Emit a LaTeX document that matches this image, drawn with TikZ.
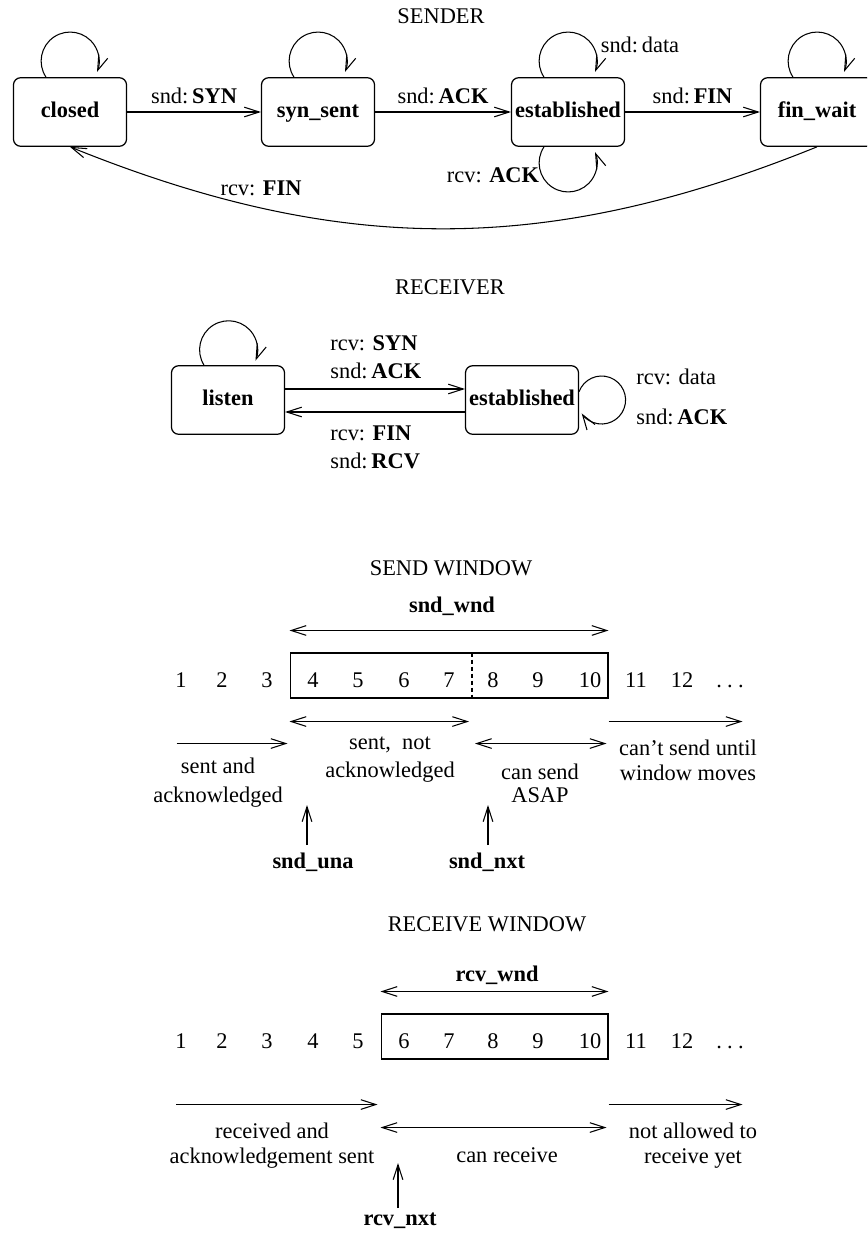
\documentclass[tikz,border=0pt]{standalone}
\usepackage{fontspec}
\setmainfont{Liberation Serif}
\usetikzlibrary{arrows.meta,positioning,calc}
\newcommand{\diafont}{\fontsize{12.75pt}{16pt}\selectfont}
\newcommand{\spdots}{.\hspace{3pt}.\hspace{3pt}.}
\tikzset{
  stbox/.style={draw,rectangle,rounded corners=4pt,minimum width=2.26cm,minimum height=1.37cm,inner sep=1pt,line width=0.7pt,font=\diafont\bfseries,text height=0.67em,text depth=0pt},
  win/.style={draw,rectangle,minimum height=0.9cm,inner sep=0pt,line width=0.6pt},
  arr/.style={-{Straight Barb[length=8.5pt,width=5.5pt]},line width=0.6pt},
  darr/.style={{Straight Barb[length=8.5pt,width=5.5pt]}-{Straight Barb[length=8.5pt,width=5.5pt]},line width=0.6pt},
  lbl/.style={inner sep=0pt,align=center,font=\diafont},
  blbl/.style={lbl,font=\diafont\bfseries},
  ttl/.style={inner sep=0pt,font=\diafont},
  seq/.style={inner sep=0pt,font=\diafont,text height=0.68em,text depth=0pt}
}
\begin{document}
\begin{tikzpicture}[x=0.02cm, y=0.02cm, font=\diafont]
  \useasboundingbox (0,0) rectangle (867,-1234);
  \clip (0,0) rectangle (867,-1234);

  % Sender states
  \node[ttl] (sttl) at (441,-16) {SENDER};
  \node[stbox] (closed) at (70,-112) {closed};
  \node[stbox] (synsent) at (318,-112) {syn\_sent};
  \node[stbox] (estab) at (568,-112) {established};
  \node[stbox] (finwait) at (817,-112) {fin\_wait};

  % Sender transitions
  \draw[arr] (closed) -- (synsent) node[lbl, midway, above=4.5pt] {snd:\,\textbf{SYN}};
  \draw[arr] (synsent) -- (estab) node[lbl, midway, above=4.5pt] {snd:\,\textbf{ACK}};
  \draw[arr] (estab) -- (finwait) node[lbl, midway, above=4.5pt] {snd:\,\textbf{FIN}};
  \draw[arr] (finwait.south) to[out=-158, in=-22] (closed.south);
  \node[lbl] (finlbl) at (261,-188) {rcv: \textbf{FIN}};

  % Self loops
  \foreach \st in {closed,synsent,estab,finwait}
    \draw[arr] ($(\st.north)+(-24,0)$) arc[start angle=213.7, end angle=-22, radius=29];
  \draw[arr] ($(estab.south)+(-24,0)$) arc[start angle=146.3, end angle=382, radius=29];
  \node[lbl] (datalbl) at (640,-45) {snd:\,data};
  \node[lbl] (acklbl) at (493,-175) {rcv: \textbf{ACK}};

  % Receiver states
  \node[ttl] (rttl) at (450,-287) {RECEIVER};
  \node[stbox] (listen) at (228,-400) {listen};
  \node[stbox] (restab) at (522,-400) {established};
  \draw[arr] ($(listen.east)+(0,11)$) -- ($(restab.west)+(0,11)$);
  \draw[arr] ($(restab.west)+(0,-12)$) -- ($(listen.east)+(0,-12)$);
  \node[lbl, anchor=west, align=left] (synlbl) at (330,-357) {rcv: \textbf{SYN}\\snd:\,\textbf{ACK}};
  \node[lbl, anchor=west, align=left] (rfinlbl) at (330,-447) {rcv: \textbf{FIN}\\snd:\,\textbf{RCV}};
  \draw[arr] ($(listen.north)+(-24,0)$) arc[start angle=212, end angle=-22, radius=29];
  \draw[arr] ($(restab.east)+(0,8.4)$) arc[start angle=159.5, end angle=-146, radius=24];
  \node[lbl, anchor=west] (rdata) at (636,-377) {rcv: data};
  \node[lbl, anchor=west] (rack) at (636,-417) {snd:\,\textbf{ACK}};

  % Send window
  \node[ttl] (swttl) at (451,-568) {SEND WINDOW};
  \node[blbl] (swnd) at (452,-606) {snd\_wnd};
  \node[win, minimum width=6.36cm] (swin) at (449,-675.5) {};
  \foreach \nm/\x in {1/181,2/222,3/267,4/313,5/358,6/404,7/449,8/493,9/538,10/590,11/636,12/682}
    \node[seq] (s\nm) at (\x,-682) {\nm};
  \node[seq] (sdots) at (730,-682) {\spdots};
  \coordinate (sdash) at (472,-675.5);
  \draw[dash pattern=on 2.3pt off 1.7pt, line width=0.6pt] (sdash |- swin.north) -- (sdash |- swin.south);
  \draw[darr] ($(swin.north west)+(0,22)$) -- ($(swin.north east)+(0,22)$);
  \draw[darr] ($(swin.south west)+(0,-23)$) -- ($(sdash |- swin.south)+(-3,-23)$);
  \draw[arr] ($(swin.south east)+(0,-23)$) -- ++(134,0);
  \draw[arr] ($(swin.south west)+(-113,-45)$) -- ($(swin.south west)+(-2,-45)$);
  \draw[darr] ($(sdash |- swin.south)+(3,-45)$) -- ($(swin.south east)+(-2,-45)$);
  \node[lbl] (sack) at (218,-783) {sent and\\[0.5pt]acknowledged};
  \node[lbl] (snack) at (390,-760) {sent,\ \ not\\acknowledged};
  \node[lbl] (csend) at (540,-783.5) {can send\\[-3pt]ASAP};
  \node[lbl] (cant) at (688,-760.5) {can’t send until\\[-1.8pt]window moves};
  \coordinate (unatip) at (307,-805);
  \coordinate (nxttip) at (488,-805);
  \draw[arr] ($(unatip)+(0,-40)$) -- (unatip);
  \draw[arr] ($(nxttip)+(0,-40)$) -- (nxttip);
  \node[blbl] (una) at (313,-862) {snd\_una};
  \node[blbl] (snxt) at (487,-862) {snd\_nxt};

  % Receive window
  \node[ttl] (rwttl) at (487,-924) {RECEIVE WINDOW};
  \node[blbl] (rwnd) at (497,-975) {rcv\_wnd};
  \node[win, minimum width=4.54cm] (rwin) at (494.5,-1036.5) {};
  \foreach \nm/\x in {1/181,2/222,3/267,4/313,5/358,6/404,7/449,8/493,9/538,10/590,11/636,12/682}
    \node[seq] (r\nm) at (\x,-1043) {\nm};
  \node[seq] (rdots) at (730,-1043) {\spdots};
  \draw[darr] ($(rwin.north west)+(0,22)$) -- ($(rwin.north east)+(0,22)$);
  \draw[arr] ($(rwin.south west)+(-204,-45)$) -- ($(rwin.south west)+(-3,-45)$);
  \draw[arr] ($(rwin.south east)+(0,-45)$) -- ++(134,0);
  \draw[darr] ($(rwin.south west)+(0,-68)$) -- ($(rwin.south east)+(-2,-68)$);
  \node[lbl] (recvd) at (272,-1146) {received and\\[-1.8pt]acknowledgement sent};
  \node[lbl] (canrcv) at (507,-1155) {can receive};
  \node[lbl] (notyet) at (693,-1146) {not allowed to\\[-1.8pt]receive yet};
  \coordinate (rnxttip) at (398,-1163);
  \draw[arr] ($(rnxttip)+(0,-45)$) -- (rnxttip);
  \node[blbl] (rnxt) at (400,-1221) {rcv\_nxt};
\end{tikzpicture}
\end{document}
